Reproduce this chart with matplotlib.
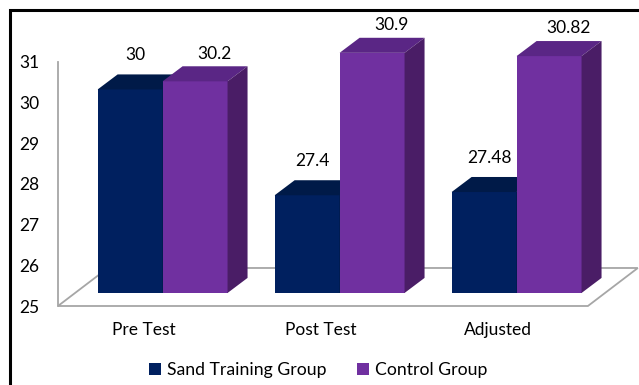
import matplotlib
matplotlib.use('Agg')
import matplotlib.pyplot as plt
from matplotlib.patches import Polygon, Rectangle

categories = ['Pre Test', 'Post Test', 'Adjusted']
series_names = ['Sand Training Group', 'Control Group']
sand = [30, 27.4, 27.48]
control = [30.2, 30.9, 30.82]
label_text_sand = ['30', '27.4', '27.48']
label_text_control = ['30.2', '30.9', '30.82']
yticks = [25, 26, 27, 28, 29, 30, 31]

front = ['#00205F', '#7030A0']
top = ['#001A48', '#5A2685']
side = ['#00173F', '#4A1D66']
floor_col = '#A6A6A6'

plt.rcParams['font.family'] = ['Lato', 'DejaVu Sans']

W, H = 639, 385
fig = plt.figure(figsize=(W / 100, H / 100), dpi=100)
ax = fig.add_axes([0, 0, 1, 1])
# pixel mapping: x = (px - 144) / 177, value = 25 + (306 - py) / 40.7
ax.set_xlim(-144 / 177, (W - 144) / 177)
ax.set_ylim(25 - (H - 306) / 40.7, 25 + 306 / 40.7)

base = 25
bw = 0.367           # bar width
bdx, bdy = 0.105, 0.32   # bar plane shift from floor front
tdx, tdy = 0.113, 0.37   # bar depth
fx0, fx1 = -0.486, 2.508
fdx, fdy = 0.282, 0.934

# floor
ax.add_patch(Polygon([(fx0, base), (fx1, base), (fx1 + fdx, base + fdy),
                      (fx0 + fdx, base + fdy)], closed=True, facecolor='white',
                     edgecolor=floor_col, lw=1.3, zorder=1))

# y axis line on the wall
for s in ['top', 'right', 'bottom']:
    ax.spines[s].set_visible(False)
ax.spines['left'].set_position(('data', fx0))
ax.spines['left'].set_bounds(25, 31)
ax.spines['left'].set_color(floor_col)
ax.spines['left'].set_linewidth(1.3)
ax.set_yticks(yticks)
ax.set_yticklabels([str(t) for t in yticks])
ax.tick_params(axis='y', length=0, pad=13.5, labelsize=12.5, labelcolor='#000000')
ax.set_xticks([])


def bar3d(x0, v, k):
    b = base + bdy
    t = v + bdy
    xs = x0 + bdx
    ax.add_patch(Polygon([(xs, b), (xs + bw, b), (xs + bw, t), (xs, t)],
                         facecolor=front[k], edgecolor='none', zorder=3))
    ax.add_patch(Polygon([(xs, t), (xs + bw, t), (xs + bw + tdx, t + tdy),
                          (xs + tdx, t + tdy)],
                         facecolor=top[k], edgecolor='none', zorder=3))
    ax.add_patch(Polygon([(xs + bw, b), (xs + bw + tdx, b + tdy),
                          (xs + bw + tdx, t + tdy), (xs + bw, t)],
                         facecolor=side[k], edgecolor='none', zorder=3))


for i, cat in enumerate(categories):
    bar3d(i - bw, sand[i], 0)
    bar3d(i, control[i], 1)
    ax.text(i - bw / 2 + bdx + 0.03, sand[i] + bdy + tdy + 0.47,
            label_text_sand[i], ha='center', va='center', fontsize=12.5)
    ax.text(i + bw / 2 + bdx + 0.11, control[i] + bdy + tdy + 0.31,
            label_text_control[i], ha='center', va='center', fontsize=12.5)
    ax.text(i, base - 0.58, cat, ha='center', va='center', fontsize=12.5)

handles = [Rectangle((0, 0), 1, 1, facecolor=c) for c in front]
fig.legend(handles, series_names, loc='center', ncol=2, frameon=False,
           bbox_to_anchor=(318 / W, 1 - 370 / H), fontsize=12.7,
           handlelength=0.7, handleheight=0.7, handletextpad=0.35,
           columnspacing=1.7)

# outer frame (only left and top edges visible)
fig.patches.append(Rectangle((9.5 / W, -0.5), 2, 1.5 - 9.5 / H,
                             transform=fig.transFigure, fill=False,
                             edgecolor='black', lw=2.2))

fig.savefig('out.png', dpi=100)
